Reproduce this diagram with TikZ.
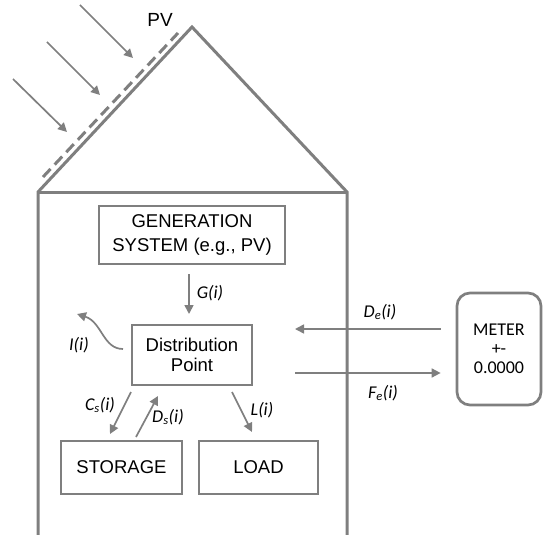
\documentclass[tikz,border=0pt]{standalone}
\usepackage{fontspec}
\setmainfont{Liberation Sans}
\newfontfamily\calibrifont{Carlito}
\usepackage{tikz}
\usetikzlibrary{positioning, arrows.meta}
\definecolor{wallgray}{HTML}{7F7F7F}
\definecolor{ink}{HTML}{000000}
\newcommand{\housefont}{\fontsize{18.5}{24}\selectfont}
\newcommand{\lblfont}{\calibrifont\itshape\fontsize{18}{20}\selectfont}
\tikzset{
  unit/.style     = {rectangle, draw=wallgray, line width=2pt, inner sep=0pt,
                     align=center, font=\housefont, text=ink},
  meterbox/.style = {rectangle, rounded corners=13pt, draw=wallgray, line width=2.7pt,
                     inner sep=0pt, align=center, text=ink,
                     font=\calibrifont\fontsize{18}{19}\selectfont},
  wall/.style     = {draw=wallgray, line width=3pt},
  pvpanel/.style  = {draw=wallgray, line width=3pt, dash pattern=on 11pt off 6pt},
  ar/.style       = {-{Triangle[length=9pt,width=9pt]}, draw=wallgray, line width=1.7pt},
  lbl/.style      = {font=\lblfont, text=ink, inner sep=0pt},
}
\begin{document}
\begin{tikzpicture}[x=1pt, y=-1pt]
  \useasboundingbox (0,0) rectangle (544,535);

  % house outline and PV panel
  \draw[wall] (38,535) -- (38,192) -- (192,27) -- (347,192) -- (347,535);
  \draw[wall] (38,192) -- (347,192);
  \draw[pvpanel] (43,177) -- (178,33);
  \node[font=\fontsize{19}{22}\selectfont, text=ink] (pvlbl) at (160,20) {PV};

  % sunlight
  \coordinate (ray1) at (80,5);
  \coordinate (ray2) at (47,42);
  \coordinate (ray3) at (13,79);
  \draw[ar] (ray1) -- ++(53,53);
  \draw[ar] (ray2) -- ++(53,53);
  \draw[ar] (ray3) -- ++(54,53);

  % units inside the house
  \node[unit, minimum width=186pt, minimum height=58pt] (gen) at (192,235) {GENERATION\\SYSTEM (e.g., PV)};
  \node[unit, minimum width=120pt, minimum height=60pt, below=59pt of gen,
        font=\fontsize{18.5}{20}\selectfont] (dist) {Distribution\\Point};
  \node[unit, minimum width=121pt, minimum height=53pt] (storage) at (121.5,467.5) {STORAGE};
  \node[unit, minimum width=119pt, minimum height=53pt, right=15pt of storage] (load) {LOAD};

  % meter
  \node[meterbox, minimum width=84pt, minimum height=112pt] (meter) at (499,349) {METER\\+-\\0.0000};

  % flows
  \draw[ar] ([shift={(-3,9)}]gen.south) -- ([shift={(-3,-10)}]dist.north);
  \node[lbl] (glbl) at (210,293) {G(i)};

  \draw[ar] ([shift={(-8,-6)}]dist.west) .. controls +(-20,0) and +(25,8) .. (77,314);
  \node[lbl] (ilbl) at (79,345) {I(i)};

  \draw[ar] ([shift={(-61,6)}]dist.south) -- ([shift={(-11.5,-6)}]storage.north);
  \node[lbl] (cslbl) at (100,405) {C\textsubscript{s}(i)};
  \draw[ar] ([shift={(14.5,-3)}]storage.north) -- ([shift={(-34,10)}]dist.south);
  \node[lbl] (dslbl) at (168,417) {D\textsubscript{s}(i)};
  \draw[ar] ([shift={(40,6)}]dist.south) -- ([shift={(-6.5,-8)}]load.north);
  \node[lbl] (llbl) at (262,410) {L(i)};

  % grid exchange
  \coordinate (gridin) at (295,329);
  \coordinate (gridout) at (295,373);
  \draw[ar, shorten <=15pt] (meter.west |- gridin) -- (gridin);
  \node[lbl] (delbl) at (380,312) {D\textsubscript{e}(i)};
  \draw[ar, shorten >=15pt] (gridout) -- (meter.west |- gridout);
  \node[lbl] (felbl) at (383,393) {F\textsubscript{e}(i)};

\end{tikzpicture}
\end{document}
